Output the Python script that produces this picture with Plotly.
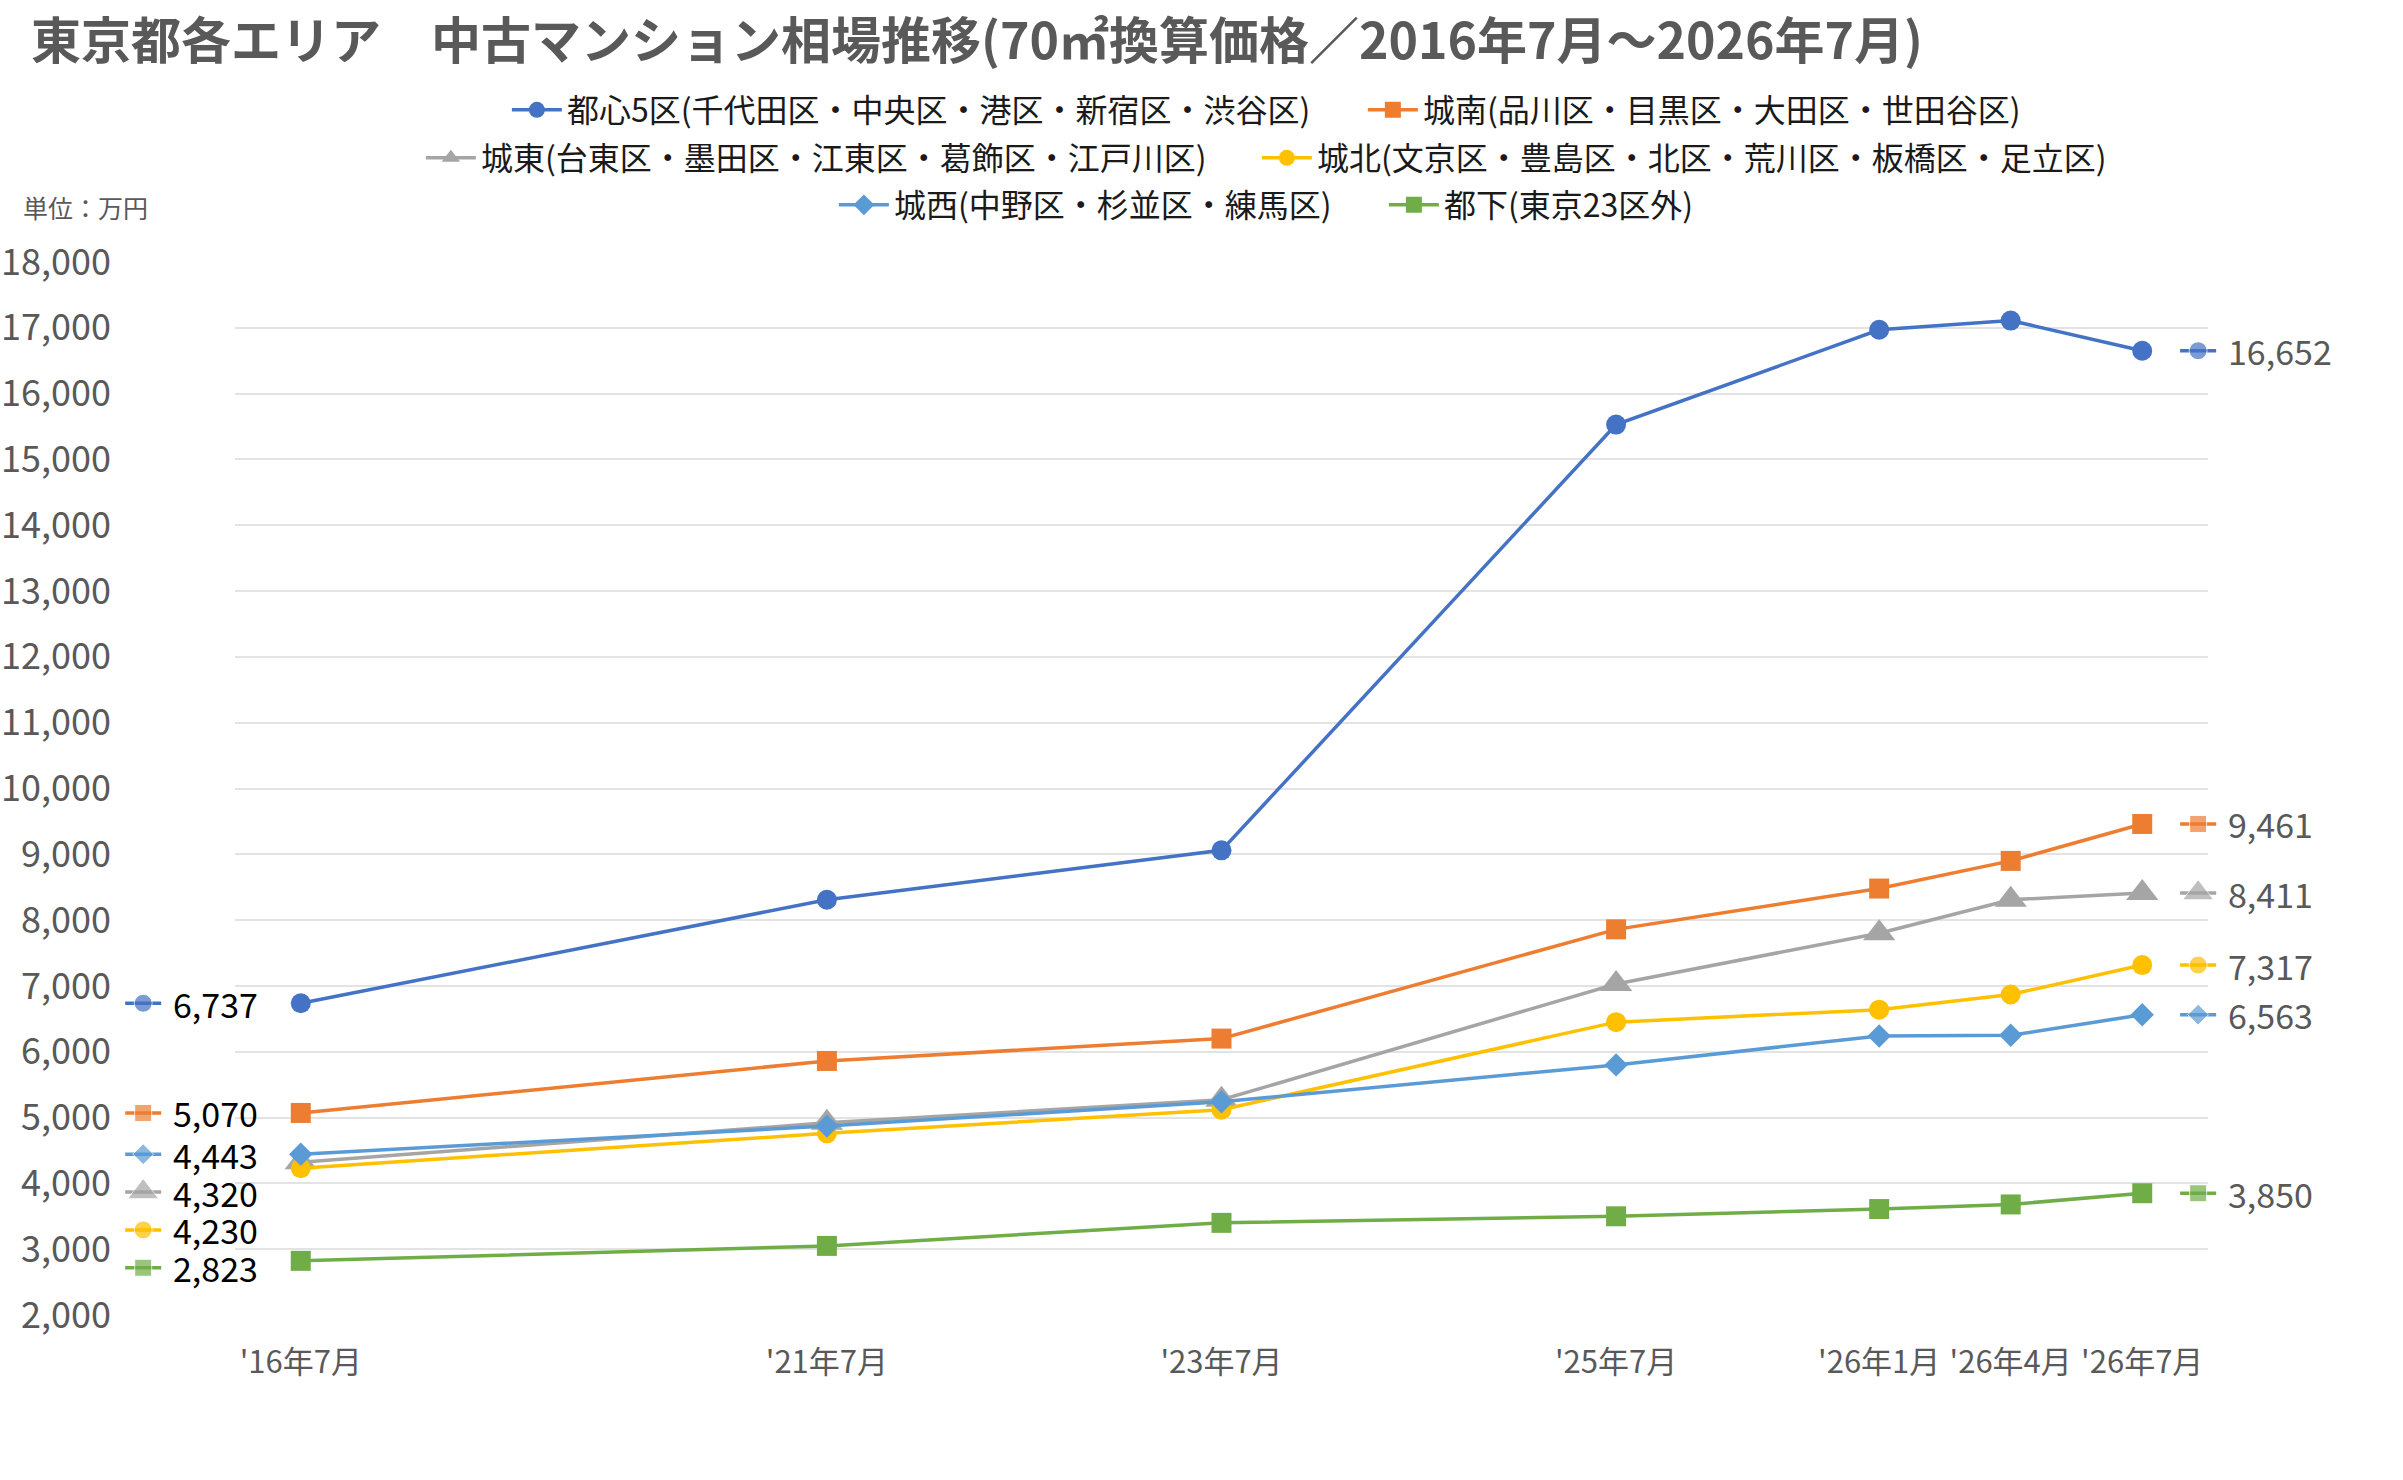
import plotly.graph_objects as go

# 横軸: 期間ラベルと、元グラフでの目盛りスロット位置
period_labels = ["'16年7月", "'21年7月", "'23年7月", "'25年7月", "'26年1月", "'26年4月", "'26年7月"]
period_slots = [0, 4, 7, 10, 12, 13, 14]

# エリア名
area_names = [
    "都心5区(千代田区・中央区・港区・新宿区・渋谷区)",
    "城南(品川区・目黒区・大田区・世田谷区)",
    "城東(台東区・墨田区・江東区・葛飾区・江戸川区)",
    "城北(文京区・豊島区・北区・荒川区・板橋区・足立区)",
    "城西(中野区・杉並区・練馬区)",
    "都下(東京23区外)",
]

# 70㎡換算価格(万円)
toshin5 = [6737, 8310, 9060, 15530, 16970, 17110, 16652]
jonan = [5070, 5860, 6200, 7860, 8480, 8900, 9461]
joto = [4320, 4920, 5270, 7030, 7800, 8310, 8411]
johoku = [4230, 4760, 5120, 6450, 6640, 6870, 7317]
josei = [4443, 4870, 5240, 5800, 6240, 6250, 6563]
tokka = [2823, 3050, 3400, 3500, 3610, 3680, 3850]

area_values = [toshin5, jonan, joto, johoku, josei, tokka]

# 見た目の設定
COLORS = ["#4472C4", "#ED7D31", "#A5A5A5", "#FFC000", "#5B9BD5", "#70AD47"]
SYMBOLS = ["circle", "square", "triangle-up", "circle", "diamond", "square"]
MARKER_SIZES = [20, 20, 28, 20, 18, 20]
ICON_SIZES = [18, 17, 27, 18, 16, 17]
LEGEND_IDS = ["legend", "legend", "legend2", "legend2", "legend3", "legend3"]
# 凡例の各行で、左側の項目の幅(右の項目との間隔を元グラフに合わせる)
LEGEND_WIDTHS = [791, None, 771, None, 485, None]

FONT = "Noto Sans CJK JP"
GRAY_TEXT = "#595959"

W, H = 2403, 1480
X_DOMAIN = [235 / W, 2208 / W]
Y_DOMAIN = [165 / H, 1218 / H]
X_RANGE = [-0.5, 14.5]
Y_RANGE = [2000, 18000]

# ラベル用の重ね軸(図全体の幅)を本体と同じ縮尺にする
px_per_unit = (X_DOMAIN[1] - X_DOMAIN[0]) * W / (X_RANGE[1] - X_RANGE[0])
X2_RANGE = [X_RANGE[0] - X_DOMAIN[0] * W / px_per_unit,
            X_RANGE[1] + (1 - X_DOMAIN[1]) * W / px_per_unit]


def spread_labels(values, gap=575):
    """値ラベルが重ならないよう、上から順に最小間隔を空けたy位置を返す"""
    order = sorted(range(len(values)), key=lambda i: -values[i])
    pos = [0] * len(values)
    prev = None
    for i in order:
        y = values[i] if prev is None else min(values[i], prev - gap)
        pos[i] = y
        prev = y
    return pos


fig = go.Figure()

# 本体の折れ線
for i, (name, vals) in enumerate(zip(area_names, area_values)):
    fig.add_trace(go.Scatter(
        x=period_slots, y=vals, name=name,
        mode="lines+markers",
        line=dict(color=COLORS[i], width=3.5),
        marker=dict(symbol=SYMBOLS[i], size=MARKER_SIZES[i], color=COLORS[i]),
        legend=LEGEND_IDS[i],
        legendwidth=LEGEND_WIDTHS[i],
        hovertemplate="%{y:,}<extra>" + name + "</extra>",
    ))

# 始点・終点の値ラベル(線+マーカーのアイコン付き)
first_vals = [v[0] for v in area_values]
last_vals = [v[-1] for v in area_values]
left_pos = spread_labels(first_vals)
right_pos = spread_labels(last_vals)

ICON_HALF = 0.137
label_sides = [
    (-1.198, -0.99, left_pos, first_vals, "#000000"),
    (14.425, 14.64, right_pos, last_vals, GRAY_TEXT),
]
for icon_x, text_x, positions, vals, text_color in label_sides:
    for i in range(len(area_values)):
        fig.add_trace(go.Scatter(
            x=[icon_x - ICON_HALF, icon_x, icon_x + ICON_HALF],
            y=[positions[i]] * 3,
            mode="lines+markers",
            line=dict(color=COLORS[i], width=3.5),
            marker=dict(symbol=SYMBOLS[i], size=[0, ICON_SIZES[i], 0], color=COLORS[i]),
            xaxis="x2", yaxis="y2",
            showlegend=False, hoverinfo="skip",
        ))
        fig.add_annotation(
            x=text_x, y=positions[i], xref="x2", yref="y2",
            text=f"{vals[i]:,}", showarrow=False,
            xanchor="left", yanchor="middle",
            font=dict(family=FONT, size=34, color=text_color),
        )

# 単位
fig.add_annotation(
    x=21 / W, y=1 - 207 / H, xref="paper", yref="paper",
    text="単位：万円", showarrow=False, xanchor="left", yanchor="middle",
    font=dict(family=FONT, size=25, color=GRAY_TEXT),
)

legend_style = dict(
    orientation="h", x=0.527, xanchor="center", yanchor="middle",
    font=dict(family=FONT, size=32, color="#1a1a1a"),
    bgcolor="rgba(0,0,0,0)", itemwidth=50,
)

fig.update_layout(
    width=W, height=H,
    margin=dict(l=0, r=0, t=0, b=0, autoexpand=False),
    paper_bgcolor="white",
    plot_bgcolor="rgba(0,0,0,0)",
    font=dict(family=FONT, color=GRAY_TEXT),
    title=dict(
        text="東京都各エリア　中古マンション相場推移(70㎡換算価格／2016年7月～2026年7月)",
        x=31 / W, xanchor="left", y=1 - 41 / H, yanchor="middle",
        font=dict(family=FONT, size=50, color=GRAY_TEXT, weight="bold"),
    ),
    legend=dict(legend_style, y=1 - 110 / H),
    legend2=dict(legend_style, y=1 - 158 / H),
    legend3=dict(legend_style, y=1 - 205 / H),
    xaxis=dict(
        domain=X_DOMAIN, range=X_RANGE,
        tickvals=period_slots, ticktext=period_labels,
        showgrid=False, zeroline=False, showline=False, ticks="",
        tickfont=dict(family=FONT, size=31, color=GRAY_TEXT),
        ticklabelstandoff=26,
        automargin=False,
    ),
    yaxis=dict(
        domain=Y_DOMAIN, range=Y_RANGE, dtick=1000, tickformat=",d",
        showgrid=True, gridcolor="#E3E3E3", gridwidth=2,
        zeroline=False, showline=False, ticks="",
        tickfont=dict(family=FONT, size=36, color=GRAY_TEXT),
        ticklabelstandoff=123,
        automargin=False,
    ),
    xaxis2=dict(domain=[0, 1], range=X2_RANGE, anchor="y2", visible=False),
    yaxis2=dict(domain=Y_DOMAIN, range=Y_RANGE, anchor="x2", visible=False),
)

# ページ余白をなくして図を左上から配置する(モードバーは非表示)
fig.write_html(
    "out.html",
    config={"displayModeBar": False},
    post_script="document.body.style.margin = '0';",
)
